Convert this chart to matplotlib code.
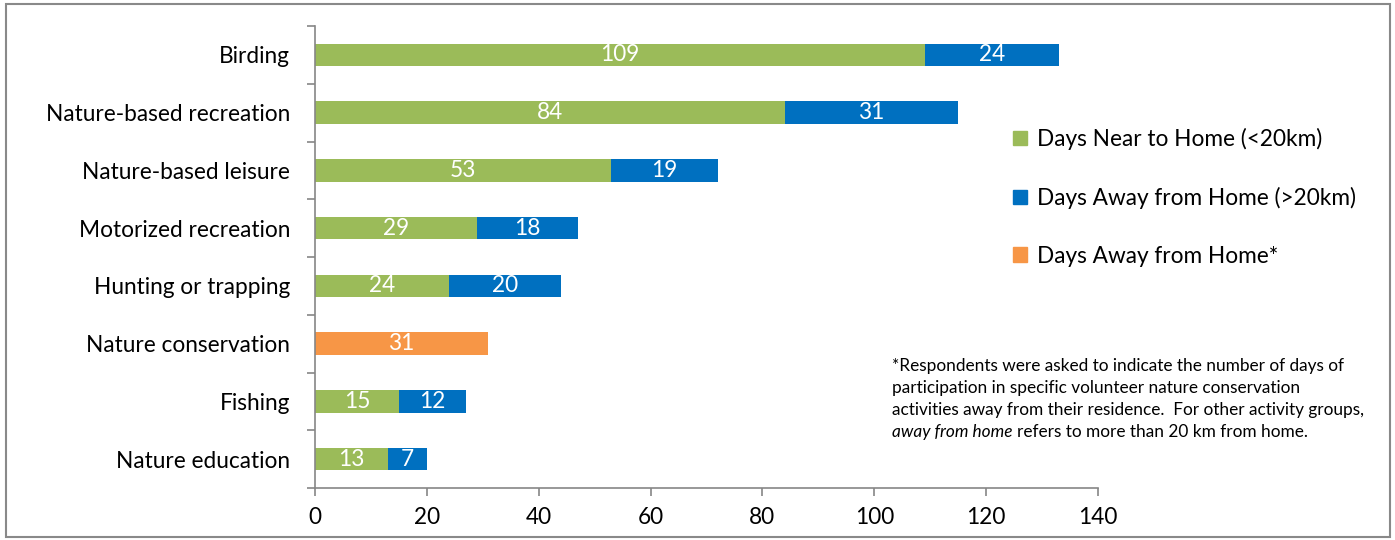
import matplotlib
matplotlib.use("Agg")
import matplotlib.pyplot as plt
from matplotlib.patches import Rectangle, Patch
import numpy as np

plt.rcParams['font.family'] = ['Lato', 'DejaVu Sans']

# data
activities = ["Birding", "Nature-based recreation", "Nature-based leisure",
              "Motorized recreation", "Hunting or trapping", "Nature conservation",
              "Fishing", "Nature education"]
near_home = [109, 84, 53, 29, 24, 0, 15, 13]
away_home = [24, 31, 19, 18, 20, 0, 12, 7]
away_star = [0, 0, 0, 0, 0, 31, 0, 0]
series_names = ["Days Near to Home (<20km)", "Days Away from Home (>20km)",
                "Days Away from Home*"]
xticks = [0, 20, 40, 60, 80, 100, 120, 140]

GREEN = "#9BBB59"
BLUE = "#0070C0"
ORANGE = "#F79646"
AXC = "#868686"

fig = plt.figure(figsize=(13.95, 5.4), dpi=100)
ax = fig.add_axes([315/1395, 1-488/540, (1098-315)/1395, (488-26)/540])

y = np.arange(len(activities))
near = np.array(near_home)
away = np.array(away_home)
star = np.array(away_star)
h = 0.39
ax.barh(y, near, height=h, color=GREEN)
ax.barh(y, away, left=near, height=h, color=BLUE)
ax.barh(y, star, height=h, color=ORANGE)

fs = 16.3
for i in range(len(activities)):
    if near[i] > 0:
        ax.text(near[i]/2, i, str(near[i]), color="white", ha="center", va="center", fontsize=fs)
    if away[i] > 0:
        ax.text(near[i] + away[i]/2, i, str(away[i]), color="white", ha="center", va="center", fontsize=fs)
    if star[i] > 0:
        ax.text(star[i]/2, i, str(star[i]), color="white", ha="center", va="center", fontsize=fs)

ax.set_xlim(0, 140)
ax.set_ylim(len(activities) - 0.5, -0.5)
ax.set_xticks(xticks)
ax.set_xticklabels([str(t) for t in xticks], fontsize=fs)
ax.set_yticks(y)
ax.set_yticklabels(activities, fontsize=fs)
ax.set_yticks(np.arange(-0.5, len(activities)), minor=True)
ax.tick_params(axis="y", which="major", length=0, pad=18)
ax.tick_params(axis="y", which="minor", length=6, color=AXC, width=1.2, direction="out")
ax.tick_params(axis="x", length=6, color=AXC, width=1.2, direction="out", pad=8)
for s in ["top", "right"]:
    ax.spines[s].set_visible(False)
for s in ["left", "bottom"]:
    ax.spines[s].set_color(AXC)
    ax.spines[s].set_linewidth(1.2)

handles = [Patch(color=GREEN), Patch(color=BLUE), Patch(color=ORANGE)]
fig.legend(handles, series_names, loc="upper left", bbox_to_anchor=(1013/1395, 1-128/540),
           frameon=False, fontsize=fs, handlelength=0.62, handleheight=0.62,
           handletextpad=0.45, labelspacing=1.62, borderaxespad=0, borderpad=0)

# footnote
note = ["*Respondents were asked to indicate the number of days of",
        "participation in specific volunteer nature conservation",
        "activities away from their residence.  For other activity groups,"]
nfs = 12.4
for k, line in enumerate(note):
    fig.text(892/1395, 1-(366 + 22*k)/540, line, fontsize=nfs, va="center")
t_it = fig.text(892/1395, 1-432/540, "away from home", fontsize=nfs, va="center", style="italic")
r = fig.canvas.get_renderer()
bb = t_it.get_window_extent(renderer=r)
fig.text(bb.x1/1395 + 0.003, 1-432/540, "refers to more than 20 km from home.", fontsize=nfs, va="center")

# chart frame
fig.patches.append(Rectangle((5.5/1395, 3/540), (1390-5.5)/1395, (537-4)/540,
                             transform=fig.transFigure, fill=False, edgecolor="#898989",
                             linewidth=1.5))

fig.savefig("out.png", dpi=100)
